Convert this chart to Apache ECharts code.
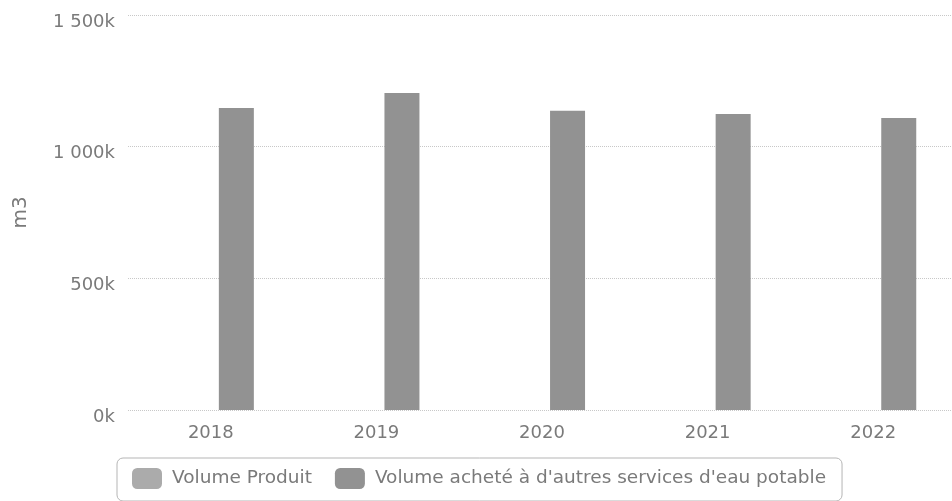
<!DOCTYPE html>
<html>
<head>
<meta charset="utf-8">
<script src="https://cdn.jsdelivr.net/npm/echarts@6/dist/echarts.min.js"></script>
<style>
  html, body { margin: 0; padding: 0; background: #fff; }
  #main { width: 952px; height: 501px; }
</style>
</head>
<body>
<div id="main"></div>
<script>
// values
var years = ['2018', '2019', '2020', '2021', '2022'];
var volumeProduit = [0, 0, 0, 0, 0];
var volumeAchete = [1147000, 1204000, 1136000, 1124000, 1109000];
var yTicks = [0, 500000, 1000000, 1500000];

var myChart = echarts.init(document.getElementById('main'));
var font = 'DejaVu Sans';

myChart.setOption({
    animation: false,
    textStyle: { fontFamily: font },
    grid: { left: 128, top: 15, right: -4, height: 395, outerBoundsMode: 'none', containLabel: false },
    legend: {
        left: 117,
        top: 458,
        padding: [10, 16, 12, 15],
        borderColor: '#b5b5b5',
        borderWidth: 1,
        borderRadius: 6,
        itemWidth: 30,
        itemHeight: 21,
        itemGap: 23,
        textStyle: { fontFamily: font, fontSize: 18.5, color: '#7a7a7a', padding: [0, 0, 0, 5] },
        data: ['Volume Produit', "Volume acheté à d'autres services d'eau potable"]
    },
    xAxis: {
        type: 'category',
        data: years,
        axisLine: { show: false },
        axisTick: { show: false },
        axisLabel: { fontFamily: font, fontSize: 18, color: '#7a7a7a', margin: 14 }
    },
    yAxis: {
        type: 'value',
        min: yTicks[0],
        max: yTicks[yTicks.length - 1],
        interval: 500000,
        name: 'm3',
        nameLocation: 'middle',
        nameRotate: 90,
        nameGap: 97,
        nameTextStyle: { fontFamily: font, fontSize: 20, color: '#7a7a7a' },
        axisLine: { show: false },
        axisTick: { show: false },
        splitLine: { lineStyle: { color: '#c8c8c8', type: 'dotted', width: 1 } },
        axisLabel: {
            fontFamily: font, fontSize: 18, color: '#7a7a7a', margin: 13,
            verticalAlign: 'top',
            lineHeight: 14,
            formatter: function (v) {
                var k = Math.round(v / 1000);
                return String(k).replace(/\B(?=(\d{3})+(?!\d))/g, ' ') + 'k';
            }
        }
    },
    series: [
        {
            name: 'Volume Produit',
            type: 'bar',
            data: volumeProduit,
            barWidth: 35,
            barGap: '46%',
            itemStyle: { color: '#ababab', borderRadius: 2 }
        },
        {
            name: "Volume acheté à d'autres services d'eau potable",
            type: 'bar',
            data: volumeAchete,
            barWidth: 35,
            itemStyle: { color: '#929292' }
        }
    ]
});
</script>
</body>
</html>
